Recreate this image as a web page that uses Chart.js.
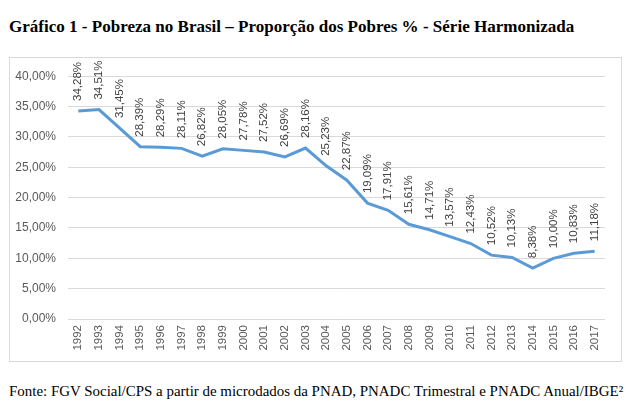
<!DOCTYPE html>
<html><head><meta charset="utf-8">
<script src="https://cdn.jsdelivr.net/npm/chart.js@4/dist/chart.umd.min.js"></script>
<style>
html,body{margin:0;padding:0;background:#fff;width:630px;height:420px;overflow:hidden;}
#title{position:absolute;left:9px;top:17px;font-family:"Liberation Serif","Times New Roman",serif;font-weight:bold;font-size:17.05px;color:#000;white-space:nowrap;}
#box{position:absolute;left:9px;top:57px;width:611px;height:303px;border:1px solid #d9d9d9;}
#wrap{position:absolute;left:9px;top:57px;width:613px;height:305px;}
#src{position:absolute;left:9px;top:383px;font-family:"Liberation Serif","Times New Roman",serif;font-size:14.95px;color:#000;white-space:nowrap;}
</style></head>
<body>
<div id="title">Gráfico 1 - Pobreza no Brasil – Proporção dos Pobres % - Série Harmonizada</div>
<div id="box"></div>
<div id="wrap"><canvas id="c" width="613" height="305"></canvas></div>
<div id="src">Fonte: FGV Social/CPS a partir de microdados da PNAD, PNADC Trimestral e PNADC Anual/IBGE²</div>
<script>
const years = ["1992","1993","1994","1995","1996","1997","1998","1999","2000","2001","2002","2003","2004","2005","2006","2007","2008","2009","2010","2011","2012","2013","2014","2015","2016","2017"];
const poverty = [34.28,34.51,31.45,28.39,28.29,28.11,26.82,28.05,27.78,27.52,26.69,28.16,25.23,22.87,19.09,17.91,15.61,14.71,13.57,12.43,10.52,10.13,8.38,10.00,10.83,11.18];

const fmt = v => v.toFixed(2).replace('.', ',') + '%';

const labelPlugin = {
  id: 'vlabels',
  afterDatasetsDraw(chart) {
    const ctx = chart.ctx;
    const meta = chart.getDatasetMeta(0);
    ctx.save();
    ctx.font = '11.5px "Liberation Sans", Arial, sans-serif';
    ctx.fillStyle = '#404040';
    ctx.textAlign = 'left';
    ctx.textBaseline = 'middle';
    meta.data.forEach((pt, i) => {
      ctx.save();
      ctx.translate(pt.x, pt.y - 10);
      ctx.rotate(-Math.PI / 2);
      ctx.fillText(fmt(poverty[i]), 0, 0);
      ctx.restore();
    });
    ctx.restore();
  }
};

new Chart(document.getElementById('c'), {
  type: 'line',
  data: {
    labels: years,
    datasets: [{
      data: poverty,
      borderColor: '#5B9BD5',
      borderWidth: 3,
      pointRadius: 0,
      tension: 0,
      fill: false
    }]
  },
  options: {
    responsive: false,
    animation: false,
    devicePixelRatio: 1,
    layout: { padding: { top: 16, right: 17, left: 0, bottom: 0 } },
    plugins: { legend: { display: false }, tooltip: { enabled: false } },
    scales: {
      x: {
        offset: true,
        grid: { display: false, drawTicks: false },
        border: { display: false },
        ticks: {
          minRotation: 90, maxRotation: 90, autoSkip: false,
          color: '#595959', padding: 6,
          font: { family: '"Liberation Sans", Arial, sans-serif', size: 11.5 }
        },
        afterFit(s) { s.height = 43; }
      },
      y: {
        min: 0, max: 40,
        grid: { color: '#d9d9d9', drawTicks: false },
        border: { display: false },
        ticks: {
          stepSize: 5, color: '#595959', padding: 12,
          font: { family: '"Liberation Sans", Arial, sans-serif', size: 12 },
          callback: v => v.toFixed(2).replace('.', ',') + '%'
        },
        afterFit(s) { s.width = 59; }
      }
    }
  },
  plugins: [labelPlugin]
});
</script>
</body></html>
